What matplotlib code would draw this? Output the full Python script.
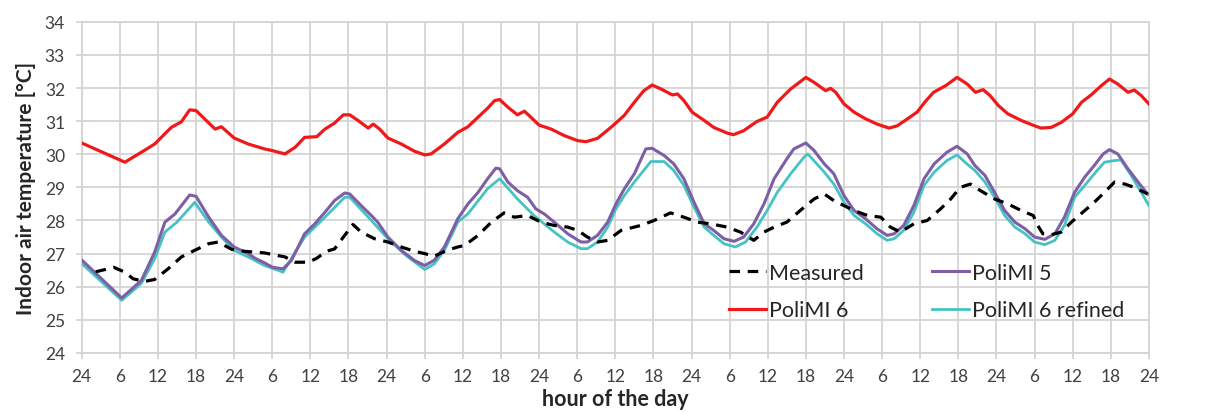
import numpy as np
import matplotlib
matplotlib.use("Agg")
import matplotlib.pyplot as plt

plt.rcParams['font.family'] = ['Lato', 'DejaVu Sans']

# values (hour since start, temperature in degC)
meas_h = [2.2, 3.7, 5, 6.8, 8.1, 9.9, 11.5, 13.6, 15.7, 17.8, 20, 21.5, 23.6, 25.6, 28.8,
          32, 33.6, 35.7, 37, 38.5, 39.8, 41.2, 42.7, 44, 46.1, 48.2, 50.3, 52.4, 54, 55.5,
          57.5, 59.2, 60.3, 62.4, 64.5, 66.5, 68.1, 70.2, 72.3, 74.4, 76.5, 78.1, 79.6, 81.2,
          82.8, 84.9, 88, 90.1, 92.7, 94.8, 96.9, 99, 101.6, 103.7, 105.8, 107.4, 109, 111,
          113.1, 115.3, 116.9, 118.4, 120, 121.6, 123.7, 125.8, 127.3, 128.9, 131, 133.1,
          135.2, 136.8, 138.3, 139.9, 141.5, 143.7, 145.8, 147.9, 149.8, 150.5, 151.3, 152.6,
          154.2, 155.8, 157.9, 159.4, 161, 162.6, 164.2, 165.7, 167.8]
meas_t = [26.45, 26.52, 26.59, 26.44, 26.24, 26.16, 26.22, 26.54, 26.9, 27.1, 27.3, 27.35,
          27.13, 27.07, 27.02, 26.9, 26.74, 26.74, 26.86, 27.07, 27.14, 27.5, 27.88, 27.65, 27.45,
          27.35, 27.2, 27.07, 27.0, 26.92, 27.1, 27.2, 27.25, 27.55, 27.95, 28.23, 28.1, 28.15,
          27.95, 27.85, 27.8, 27.7, 27.5, 27.35, 27.4, 27.7, 27.85, 28.0, 28.23, 28.1, 27.95, 27.9,
          27.8, 27.65, 27.4, 27.65, 27.8, 27.95, 28.3, 28.65, 28.8, 28.6, 28.45, 28.3, 28.15, 28.1,
          27.8, 27.65, 27.9, 28.0, 28.35, 28.65, 29.0, 29.1, 28.9, 28.65, 28.5, 28.3, 28.15, 27.85,
          27.6, 27.57, 27.65, 27.95, 28.3, 28.55, 28.85, 29.16, 29.1, 29.0, 28.8]

p6_h = [0, 6.8, 9.4, 11.5, 14.1, 15.7, 17, 18, 21, 22, 24, 26.2, 28.8, 30, 32, 33.6, 35.1, 37,
        38.3, 39.8, 41.2, 42.2, 43.5, 45.1, 45.9, 46.9, 48.2, 50.3, 52.4, 54, 55, 57.1, 59.2,
        60.8, 62.4, 63.9, 65, 65.8, 67.1, 68.6, 69.7, 70.7, 72, 73.9, 76, 78.1, 79.4, 81.2, 83.3,
        85.4, 87, 88.5, 89.8, 91.2, 93, 93.8, 94.8, 96.1, 98, 99.5, 101.6, 102.6, 104.2, 106.3,
        107.9, 109.5, 111.6, 114, 115.3, 117.1, 117.9, 118.7, 120, 121.6, 123.4, 125.2, 127.1,
        128.4, 130, 131.5, 132.8, 134.1, 136, 137.8, 139.4, 140.7, 141.9, 143, 144.3, 145.8,
        147.9, 150, 151, 152.6, 154.2, 156, 157.4, 158.9, 160.5, 161.8, 163.1, 164.7, 165.7,
        166.8, 168]
p6_t = [30.34, 29.76, 30.06, 30.31, 30.81, 30.98, 31.34, 31.32, 30.76, 30.83, 30.49, 30.31, 30.16,
        30.11, 30.01, 30.21, 30.51, 30.53, 30.76, 30.94, 31.19, 31.19, 31.02, 30.79, 30.91, 30.76,
        30.49, 30.31, 30.09, 29.98, 30.01, 30.31, 30.66, 30.83, 31.12, 31.39, 31.62, 31.65, 31.42,
        31.19, 31.3, 31.12, 30.88, 30.76, 30.56, 30.41, 30.38, 30.48, 30.81, 31.17, 31.57, 31.92,
        32.09, 31.97, 31.79, 31.82, 31.62, 31.27, 31.02, 30.81, 30.64, 30.59, 30.71, 30.99, 31.12,
        31.57, 31.97, 32.32, 32.17, 31.92, 31.99, 31.87, 31.52, 31.27, 31.07, 30.91, 30.79, 30.86,
        31.07, 31.27, 31.59, 31.87, 32.07, 32.32, 32.12, 31.87, 31.95, 31.77, 31.47, 31.22, 31.02,
        30.86, 30.79, 30.81, 30.96, 31.22, 31.57, 31.79, 32.07, 32.27, 32.12, 31.87, 31.94, 31.77,
        31.52]

p5_h = [0, 6.3, 9.4, 11.5, 13.1, 14.7, 17, 18, 20, 22, 24, 26.2, 27.3, 28.8, 30, 31.7, 33, 35.1,
        36.7, 38.3, 39.8, 41.4, 42.2, 44, 45.6, 46.6, 48.2, 50.3, 52.4, 54, 55.5, 57.1, 59.2,
        60.8, 62.4, 63.9, 65.2, 65.8, 67.1, 68.6, 70.2, 71.5, 72.8, 74.4, 76.5, 78.6, 79.6, 81.2,
        82.8, 84.1, 85.4, 87, 88.8, 89.8, 91.7, 93.2, 94.8, 96.4, 98, 99.5, 101.1, 102.7, 104.2,
        105.8, 107.4, 109, 111, 112.1, 114, 115.3, 116.9, 118.4, 120, 121.6, 123.4, 125.2, 126.8,
        127.9, 129.4, 131, 132.6, 134.2, 136.2, 137.8, 139.4, 140.6, 142.2, 143.7, 145.3, 146.9,
        148.5, 150, 151.6, 153.2, 154.7, 156.3, 157.9, 159.4, 160.8, 161.8, 163.1, 164.7, 166.3,
        167.8]
p5_t = [26.81, 25.66, 26.19, 27.05, 27.95, 28.2, 28.77, 28.73, 28.1, 27.55, 27.2, 27.0, 26.86,
        26.72, 26.59, 26.54, 26.79, 27.6, 27.9, 28.25, 28.6, 28.83, 28.8, 28.45, 28.15, 27.95, 27.5,
        27.1, 26.79, 26.64, 26.8, 27.2, 28.05, 28.5, 28.85, 29.26, 29.58, 29.56, 29.16, 28.9, 28.7,
        28.35, 28.2, 27.95, 27.6, 27.35, 27.35, 27.55, 27.95, 28.5, 28.95, 29.41, 30.16, 30.18,
        29.96, 29.71, 29.26, 28.55, 27.9, 27.7, 27.45, 27.37, 27.5, 27.9, 28.5, 29.26, 29.86, 30.16,
        30.34, 30.11, 29.71, 29.41, 28.75, 28.3, 28.05, 27.75, 27.55, 27.6, 27.85, 28.45, 29.26,
        29.71, 30.06, 30.24, 30.01, 29.66, 29.36, 28.85, 28.3, 27.95, 27.75, 27.5, 27.43, 27.6, 28.1,
        28.85, 29.31, 29.66, 30.01, 30.14, 30.01, 29.56, 29.16, 28.8]

p6r_h = [0, 6.3, 9.4, 11.5, 13.1, 15, 17.8, 20, 22, 24, 26.2, 28.8, 31.7, 35.1, 38.3, 41.4, 42.2,
         45.6, 48.2, 51, 54, 55.5, 57.1, 59.2, 60.8, 63.9, 65.8, 68.6, 71.2, 74.4, 76.5, 78.6,
         79.6, 81.2, 82.8, 84.1, 85.4, 87, 89.6, 91.7, 93.2, 94.8, 96.4, 98, 99.5, 101.1, 102.9,
         104.5, 106.3, 107.9, 109.5, 111.6, 113.7, 114.3, 116.9, 118.4, 120, 121.6, 123.4, 125.2,
         126.8, 127.9, 129.4, 131, 132.6, 134.2, 136.2, 137.8, 139.4, 140.6, 142.2, 143.7, 145.3,
         146.9, 148.5, 150, 151.6, 153.2, 154.7, 156.3, 157.9, 159.4, 161, 162.6, 163.6, 165.2,
         166.8, 168]
p6r_t = [26.7, 25.59, 26.1, 26.85, 27.65, 27.95, 28.55, 27.95, 27.5, 27.1, 26.9, 26.64, 26.44,
         27.5, 28.1, 28.7, 28.7, 28.0, 27.45, 26.95, 26.52, 26.69, 27.1, 27.95, 28.2, 28.96, 29.26,
         28.65, 28.15, 27.65, 27.35, 27.15, 27.15, 27.35, 27.8, 28.35, 28.75, 29.16, 29.78, 29.78,
         29.51, 29.06, 28.4, 27.8, 27.55, 27.3, 27.2, 27.35, 27.8, 28.3, 28.85, 29.41, 29.91, 30.01,
         29.46, 29.1, 28.55, 28.15, 27.9, 27.6, 27.4, 27.45, 27.7, 28.25, 29.06, 29.46, 29.81, 29.98,
         29.7, 29.51, 29.16, 28.7, 28.15, 27.8, 27.6, 27.35, 27.27, 27.4, 27.85, 28.7, 29.06, 29.41,
         29.76, 29.81, 29.83, 29.36, 28.85, 28.45]

tick_hours = np.arange(0, 169, 6)
tick_labels = ['24', '6', '12', '18'] * 7 + ['24']

fig = plt.figure(figsize=(12.19, 4.14), dpi=100)
ax = fig.add_axes([0.067, 0.145, 0.8755, 0.80])

ax.plot(p6r_h, p6r_t, color='#45c3c3', lw=2.0, label='PoliMI 6 refined', zorder=3)
ax.plot(p5_h, p5_t, color='#7d5fa6', lw=2.2, label='PoliMI 5', zorder=4)
ax.plot(p6_h, p6_t, color='#f01818', lw=2.3, label='PoliMI 6', zorder=4)
ax.plot(meas_h, meas_t, color='black', lw=2.3, ls=(0, (3.3, 2.4)), label='Measured', zorder=5)

ax.set_xlim(0, 168)
ax.set_ylim(24, 34)
ax.set_xticks(tick_hours)
ax.set_xticklabels(tick_labels)
ax.set_yticks(np.arange(24, 35, 1))
ax.grid(True, color='#d4d4d4', lw=1.3)
ax.set_axisbelow(True)
for s in ax.spines.values():
    s.set_color('#d4d4d4')
    s.set_linewidth(1.3)
ax.tick_params(colors='#d4d4d4', labelcolor='#404040', labelsize=12.5, length=4, width=1.3)
ax.tick_params(axis='x', pad=7)
ax.tick_params(axis='y', pad=8)

ax.set_ylabel('Indoor air temperature [°C]', fontsize=15, fontweight='bold', color='#262626', labelpad=6)
ax.set_xlabel('hour of the day', fontsize=15.5, fontweight='bold', color='#262626', labelpad=3)

h, l = ax.get_legend_handles_labels()
order = [3, 2, 1, 0]
ax.legend([h[i] for i in order], [l[i] for i in order], ncol=2, frameon=False,
          loc='lower right', bbox_to_anchor=(0.995, 0.040), fontsize=15.5,
          handlelength=1.72, handletextpad=0.14, columnspacing=3.15, labelspacing=0.81,
          labelcolor='#262626')

fig.savefig('out.png', dpi=100)
